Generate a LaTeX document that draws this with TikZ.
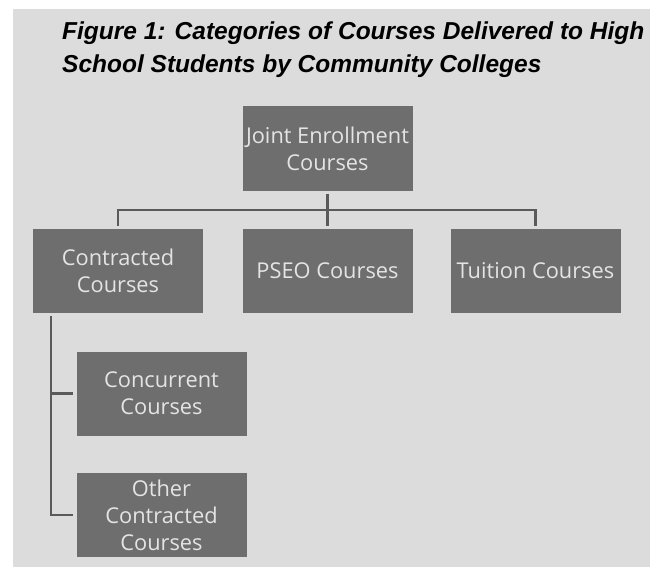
\documentclass[tikz,border=0pt]{standalone}
\usepackage{fontspec}
\setmainfont{Open Sans}
\newfontfamily\titlefont{Liberation Sans}
\definecolor{bggrey}{HTML}{DCDCDC}
\definecolor{boxgrey}{HTML}{6E6E6E}
\definecolor{boxtext}{HTML}{E4E4E4}
\definecolor{linegrey}{HTML}{5A5A5A}
\begin{document}
\begin{tikzpicture}[x=1pt,y=-1pt,
                    course/.style = {fill=boxgrey,text=boxtext,minimum width=170pt,minimum height=84pt,
                                     align=center,inner sep=0pt,font=\fontsize{21.8}{27}\selectfont},
                    link/.style = {draw=linegrey,line width=2.4pt,shorten <=3pt,shorten >=3pt}]
                        \useasboundingbox (0,0) rectangle (653,567);
                        \fill[bggrey] (13,9) rectangle (650,567);
                        \node[anchor=base west,align=left,inner sep=0pt,font=\titlefont\bfseries\itshape\fontsize{24.5}{33}\selectfont]
                             (title) at (62,73) {Figure 1: Categories of Courses Delivered to High\\School Students by Community Colleges};
                        \node[course] (joint) at (327.5,148.5) {Joint Enrollment\\Courses};
                        \node[course] (contracted) at (118,271) {Contracted\\Courses};
                        \node[course] (pseo) at (327.5,271) {PSEO Courses};
                        \node[course] (tuition) at (535.5,271) {Tuition Courses};
                        \node[course] (concurrent) at (161.5,393.5) {Concurrent\\Courses};
                        \node[course] (other) at (161.5,515) {Other\\Contracted\\Courses};
                        \coordinate (bus) at (327.5,210);
                        \draw[link] (joint) -- (pseo);
                        \draw[link] (contracted.north) |- (bus) -| (tuition.north);
                        \draw[link] ([xshift=18pt]contracted.south west) |- (concurrent.west);
                        \draw[link] ([xshift=18pt]contracted.south west) |- (other.west);
                    \end{tikzpicture}
\end{document}
